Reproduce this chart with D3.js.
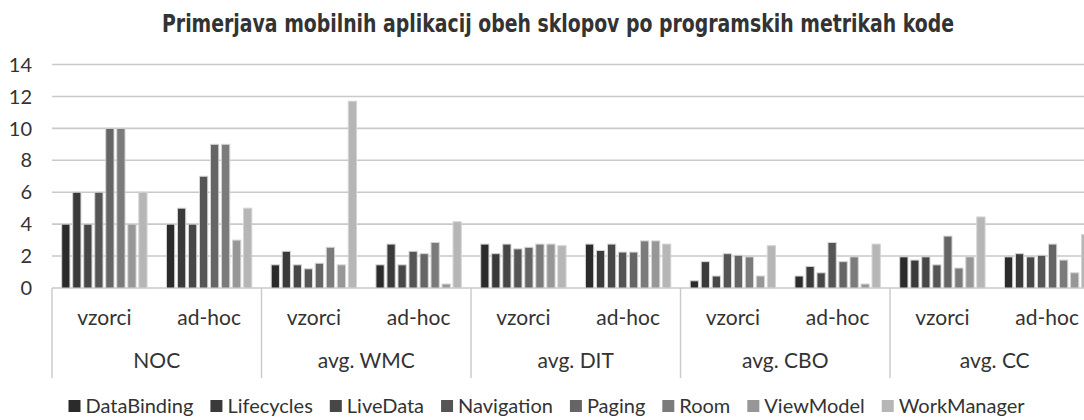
<!DOCTYPE html>
<html>
<head>
<meta charset="utf-8">
<script src="https://cdn.jsdelivr.net/npm/d3@7"></script>
<style>
  body { margin: 0; background: #fff; }
  text { font-family: Lato, "Open Sans", sans-serif; fill: #333; }
</style>
</head>
<body>
<div id="chart"></div>
<script>
// categories
var metrics = ["NOC", "avg. WMC", "avg. DIT", "avg. CBO", "avg. CC"];
var sets = ["vzorci", "ad-hoc"];
var series = ["DataBinding", "Lifecycles", "LiveData", "Navigation", "Paging", "Room", "ViewModel", "WorkManager"];
var yTicks = [0, 2, 4, 6, 8, 10, 12, 14];

// values per series, in order: NOC vzorci, NOC ad-hoc, WMC vzorci, WMC ad-hoc, DIT v, DIT a, CBO v, CBO a, CC v, CC a
var dataBinding = [4, 4, 1.45, 1.45, 2.75, 2.75, 0.45, 0.75, 1.95, 1.95];
var lifecycles  = [6, 5, 2.3, 2.75, 2.15, 2.35, 1.65, 1.35, 1.75, 2.15];
var liveData    = [4, 4, 1.45, 1.45, 2.75, 2.75, 0.75, 0.95, 1.95, 1.95];
var navigation  = [6, 7, 1.2, 2.3, 2.45, 2.25, 2.15, 2.85, 1.45, 2.05];
var paging      = [10, 9, 1.55, 2.15, 2.55, 2.25, 2.05, 1.65, 3.25, 2.75];
var room        = [10, 9, 2.55, 2.85, 2.75, 2.95, 1.95, 1.95, 1.25, 1.75];
var viewModel   = [4, 3, 1.45, 0.25, 2.75, 2.95, 0.75, 0.25, 1.95, 0.95];
var workManager = [6, 5, 11.7, 4.15, 2.65, 2.75, 2.65, 2.75, 4.45, 3.35];

var values = [dataBinding, lifecycles, liveData, navigation, paging, room, viewModel, workManager];
var colors = ["#2b2b2b", "#3a3a3a", "#474747", "#555555", "#656565", "#7b7b7b", "#979797", "#b6b6b6"];

var width = 1084, height = 420;
var plotLeft = 52, plotRight = 1099.5, plotTop = 64.5, plotBottom = 288;

var svg = d3.select("#chart")
  .append("svg")
    .attr("width", width)
    .attr("height", height);

// title
svg.append("text")
  .attr("x", 558)
  .attr("y", 32)
  .attr("text-anchor", "middle")
  .attr("textLength", 792)
  .attr("lengthAdjust", "spacingAndGlyphs")
  .style("font-family", "'DejaVu Sans Condensed', 'DejaVu Sans', sans-serif")
  .style("font-weight", "bold")
  .style("font-size", "24px")
  .style("fill", "#333")
  .text("Primerjava mobilnih aplikacij obeh sklopov po programskih metrikah kode");

// scales
var y = d3.scaleLinear().domain([0, 14]).range([plotBottom, plotTop]);

var x0 = d3.scaleBand().domain(metrics).range([plotLeft, plotRight]);
var x1 = d3.scaleBand().domain(sets).range([0, x0.bandwidth()]);
var x2 = d3.scaleBand().domain(series).range([0, x1.bandwidth()])
  .paddingInner(0.25).paddingOuter(0.88);

// gridlines
svg.append("g")
  .selectAll("line")
  .data(yTicks)
  .enter()
  .append("line")
    .attr("x1", plotLeft)
    .attr("x2", width)
    .attr("y1", function(d){ return y(d); })
    .attr("y2", function(d){ return y(d); })
    .attr("stroke", "#c9c9c9")
    .attr("stroke-width", 1.6);

// y tick labels
svg.append("g")
  .selectAll("text")
  .data(yTicks)
  .enter()
  .append("text")
    .attr("x", 32)
    .attr("y", function(d){ return y(d); })
    .attr("dy", "0.36em")
    .attr("text-anchor", "end")
    .style("font-size", "20px")
    .text(function(d){ return d; });

// flat list of bars
var bars = [];
metrics.forEach(function(m, mi) {
  sets.forEach(function(s, si) {
    series.forEach(function(name, k) {
      bars.push({ metric: m, set: s, series: name, k: k, value: values[k][mi * 2 + si] });
    });
  });
});

svg.append("g")
  .selectAll("rect")
  .data(bars)
  .enter()
  .append("rect")
    .attr("x", function(d){ return x0(d.metric) + x1(d.set) + x2(d.series); })
    .attr("y", function(d){ return y(d.value); })
    .attr("width", x2.bandwidth())
    .attr("height", function(d){ return y(0) - y(d.value); })
    .attr("fill", function(d){ return colors[d.k]; })
    .attr("stroke", "#d4d4d4")
    .attr("stroke-width", 1);

// category axis: separators between metrics
var seps = metrics.map(function(m){ return x0(m); }).concat([plotRight]);
svg.append("g")
  .selectAll("line")
  .data(seps)
  .enter()
  .append("line")
    .attr("x1", function(d){ return d; })
    .attr("x2", function(d){ return d; })
    .attr("y1", plotBottom)
    .attr("y2", 378)
    .attr("stroke", "#c9c9c9")
    .attr("stroke-width", 1.4);

// sub labels
var subLabels = [];
metrics.forEach(function(m){ sets.forEach(function(s){ subLabels.push({ m: m, s: s }); }); });
svg.append("g")
  .selectAll("text")
  .data(subLabels)
  .enter()
  .append("text")
    .attr("x", function(d){ return x0(d.m) + x1(d.s) + x1.bandwidth() / 2; })
    .attr("y", 325)
    .attr("text-anchor", "middle")
    .style("font-size", "21px")
    .text(function(d){ return d.s; });

// metric labels
svg.append("g")
  .selectAll("text")
  .data(metrics)
  .enter()
  .append("text")
    .attr("x", function(d){ return x0(d) + x0.bandwidth() / 2; })
    .attr("y", 368)
    .attr("text-anchor", "middle")
    .style("font-size", "21px")
    .text(function(d){ return d; });

// legend
var legend = svg.append("g");
var lx = 0;
series.forEach(function(name, k) {
  var item = legend.append("g").attr("transform", "translate(" + lx + ",0)");
  item.append("rect")
    .attr("x", 0).attr("y", -6)
    .attr("width", 12).attr("height", 12)
    .attr("fill", colors[k]);
  var t = item.append("text")
    .attr("x", 17)
    .attr("y", 0)
    .attr("dy", "0.36em")
    .style("font-size", "20px")
    .text(name);
  lx += 17 + t.node().getComputedTextLength() + 17;
});
var lw = lx - 17;
legend.attr("transform", "translate(" + (546.5 - lw / 2) + ",406)");
</script>
</body>
</html>
